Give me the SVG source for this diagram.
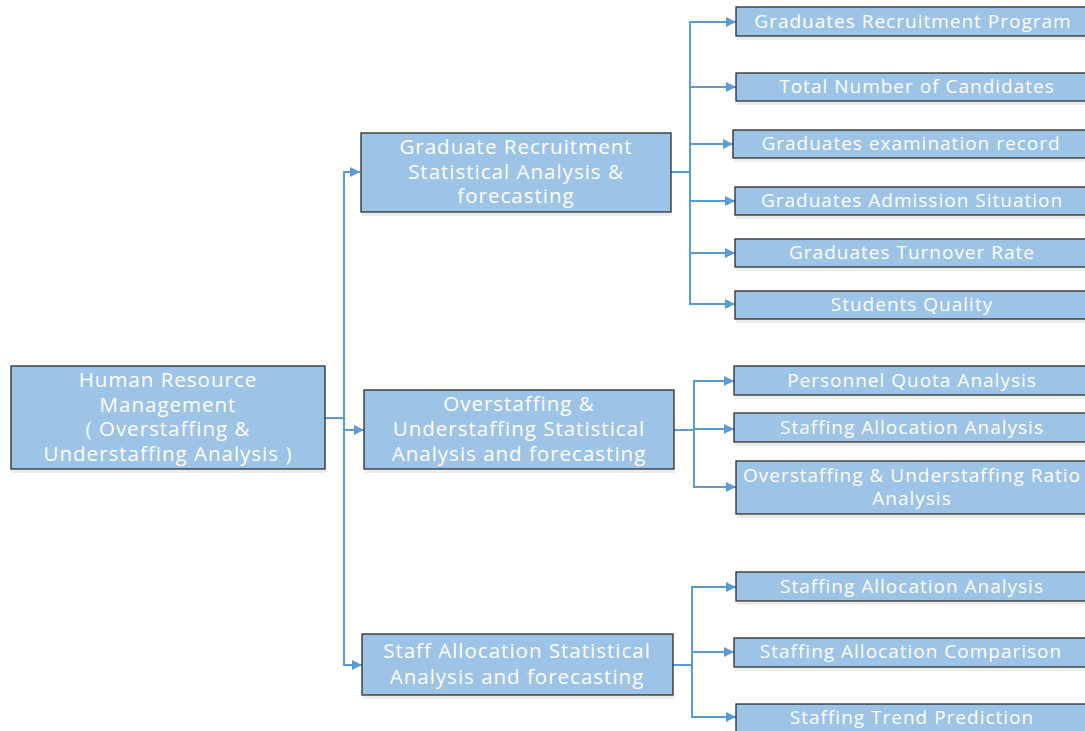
<svg xmlns="http://www.w3.org/2000/svg" width="1085" height="731" viewBox="0 0 1085 731">
<style>
.box{fill:#9dc3e6;stroke:#2b2b2b;stroke-width:1.3}
.sh{fill:#ececec}
.t{font-family:"Open Sans","Noto Sans","Liberation Sans",sans-serif;fill:#ffffff;text-anchor:middle;letter-spacing:1px}
.m{font-size:20.5px}
.l{font-size:19px}
.c{fill:none;stroke:#5b9bd5;stroke-width:2}
</style>
<defs>
<marker id="ah" viewBox="0 0 10 10" refX="10" refY="5" markerWidth="11" markerHeight="10" markerUnits="userSpaceOnUse" orient="auto">
<path d="M0,0 L10,5 L0,10 z" fill="#5b9bd5"/>
</marker>
</defs>
<rect width="1085" height="731" fill="#ffffff"/>
<g id="connectors">
<path class="c" d="M325,418 H344"/>
<path class="c" d="M344,418 V172 H360" marker-end="url(#ah)"/>
<path class="c" d="M344,418 V665 H362" marker-end="url(#ah)"/>
<path class="c" d="M344,430 H364" marker-end="url(#ah)"/>
<path class="c" d="M671,172 H690"/>
<path class="c" d="M690,172 V22 H736" marker-end="url(#ah)"/>
<path class="c" d="M690,87 H736" marker-end="url(#ah)"/>
<path class="c" d="M690,144 H733" marker-end="url(#ah)"/>
<path class="c" d="M690,172 V304 H735" marker-end="url(#ah)"/>
<path class="c" d="M690,201 H735" marker-end="url(#ah)"/>
<path class="c" d="M690,253 H735" marker-end="url(#ah)"/>
<path class="c" d="M674,430 H694"/>
<path class="c" d="M694,430 V381 H734" marker-end="url(#ah)"/>
<path class="c" d="M694,429 H734" marker-end="url(#ah)"/>
<path class="c" d="M694,430 V487 H736" marker-end="url(#ah)"/>
<path class="c" d="M673,665 H692"/>
<path class="c" d="M692,665 V587 H736" marker-end="url(#ah)"/>
<path class="c" d="M692,652 H734" marker-end="url(#ah)"/>
<path class="c" d="M692,665 V717 H736" marker-end="url(#ah)"/>
</g>
<g id="root">
<rect class="sh" x="12" y="470" width="314" height="3"/>
<rect class="box" x="11" y="366" width="314" height="103"/>
<text class="t m" x="168" y="387">Human Resource</text>
<text class="t m" x="168" y="412">Management</text>
<text class="t m" x="168" y="436">( Overstaffing &amp;</text>
<text class="t m" x="168" y="461">Understaffing Analysis )</text>
</g>
<g id="graduate">
<rect class="sh" x="362" y="213" width="310" height="3"/>
<rect class="box" x="361" y="133" width="310" height="79"/>
<text class="t m" x="516" y="154">Graduate Recruitment</text>
<text class="t m" x="516" y="179">Statistical Analysis &amp;</text>
<text class="t m" x="516" y="203">forecasting</text>
</g>
<g id="overstaffing">
<rect class="sh" x="365" y="470" width="310" height="3"/>
<rect class="box" x="364" y="390" width="310" height="79"/>
<text class="t m" x="519" y="411">Overstaffing &amp;</text>
<text class="t m" x="519" y="436">Understaffing Statistical</text>
<text class="t m" x="519" y="461">Analysis and forecasting</text>
</g>
<g id="staffalloc">
<rect class="sh" x="363" y="696" width="311" height="3"/>
<rect class="box" x="362" y="634" width="311" height="61"/>
<text class="t m" x="517" y="658">Staff Allocation Statistical</text>
<text class="t m" x="517" y="684">Analysis and forecasting</text>
</g>
<g id="leaf1">
<rect class="sh" x="737" y="37" width="360" height="3"/>
<rect class="box" x="736" y="7" width="360" height="29"/>
<text class="t l" x="913" y="28">Graduates Recruitment Program</text>
</g>
<g id="leaf2">
<rect class="sh" x="737" y="102" width="360" height="3"/>
<rect class="box" x="736" y="73" width="360" height="28"/>
<text class="t l" x="917" y="93">Total Number of Candidates</text>
</g>
<g id="leaf3">
<rect class="sh" x="734" y="159" width="360" height="3"/>
<rect class="box" x="733" y="130" width="360" height="28"/>
<text class="t l" x="911" y="150">Graduates examination record</text>
</g>
<g id="leaf4">
<rect class="sh" x="736" y="216" width="360" height="3"/>
<rect class="box" x="735" y="187" width="360" height="28"/>
<text class="t l" x="912" y="207">Graduates Admission Situation</text>
</g>
<g id="leaf5">
<rect class="sh" x="736" y="268" width="360" height="3"/>
<rect class="box" x="735" y="239" width="360" height="28"/>
<text class="t l" x="912" y="259">Graduates Turnover Rate</text>
</g>
<g id="leaf6">
<rect class="sh" x="736" y="320" width="360" height="3"/>
<rect class="box" x="735" y="291" width="360" height="28"/>
<text class="t l" x="912" y="311">Students Quality</text>
</g>
<g id="leaf7">
<rect class="sh" x="735" y="396" width="360" height="3"/>
<rect class="box" x="734" y="366" width="360" height="29"/>
<text class="t l" x="912" y="387">Personnel Quota Analysis</text>
</g>
<g id="leaf8">
<rect class="sh" x="735" y="443" width="360" height="3"/>
<rect class="box" x="734" y="413" width="360" height="29"/>
<text class="t l" x="912" y="434">Staffing Allocation Analysis</text>
</g>
<g id="leaf9">
<rect class="sh" x="737" y="515" width="360" height="3"/>
<rect class="box" x="736" y="461" width="360" height="53"/>
<text class="t l" x="912" y="482">Overstaffing &amp; Understaffing Ratio</text>
<text class="t l" x="912" y="505">Analysis</text>
</g>
<g id="leaf10">
<rect class="sh" x="737" y="602" width="360" height="3"/>
<rect class="box" x="736" y="572" width="360" height="29"/>
<text class="t l" x="912" y="593">Staffing Allocation Analysis</text>
</g>
<g id="leaf11">
<rect class="sh" x="735" y="668" width="360" height="3"/>
<rect class="box" x="734" y="638" width="360" height="29"/>
<text class="t l" x="911" y="658">Staffing Allocation Comparison</text>
</g>
<g id="leaf12">
<rect class="box" x="736" y="704" width="360" height="30"/>
<text class="t l" x="912" y="724">Staffing Trend Prediction</text>
</g>
</svg>
